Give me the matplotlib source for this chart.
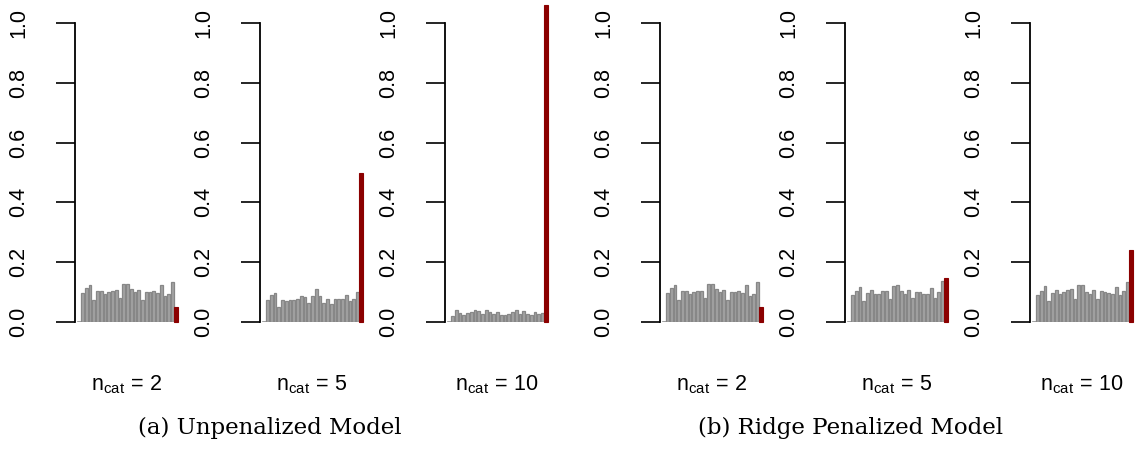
import matplotlib
matplotlib.use("Agg")
import matplotlib.pyplot as plt
import numpy as np

plt.rcParams["font.family"] = ["Liberation Sans", "DejaVu Sans"]
plt.rcParams["mathtext.fontset"] = "custom"
plt.rcParams["mathtext.rm"] = "Liberation Sans"
plt.rcParams["mathtext.it"] = "Liberation Sans"

# grey bars: 25 noise variables, last (red) bar: the categorical variable
unpen_2 = [0.098, 0.114, 0.125, 0.075, 0.105, 0.105, 0.093, 0.099, 0.105, 0.106,
           0.081, 0.127, 0.127, 0.109, 0.100, 0.108, 0.075, 0.099, 0.099, 0.103,
           0.098, 0.123, 0.086, 0.095, 0.134]
unpen_5 = [0.074, 0.089, 0.096, 0.049, 0.074, 0.071, 0.072, 0.074, 0.076, 0.088,
           0.085, 0.062, 0.087, 0.111, 0.087, 0.065, 0.078, 0.060, 0.078, 0.078,
           0.076, 0.089, 0.071, 0.078, 0.099]
unpen_10 = [0.019, 0.039, 0.030, 0.023, 0.030, 0.032, 0.041, 0.037, 0.026, 0.039,
            0.035, 0.028, 0.035, 0.025, 0.025, 0.028, 0.035, 0.039, 0.028, 0.037,
            0.028, 0.023, 0.032, 0.028, 0.030]
ridge_2 = [0.098, 0.114, 0.125, 0.075, 0.105, 0.105, 0.095, 0.100, 0.105, 0.105,
           0.081, 0.127, 0.127, 0.109, 0.100, 0.108, 0.075, 0.099, 0.099, 0.103,
           0.098, 0.125, 0.086, 0.095, 0.134]
ridge_5 = [0.089, 0.103, 0.117, 0.070, 0.097, 0.107, 0.093, 0.093, 0.105, 0.105,
           0.078, 0.122, 0.124, 0.103, 0.095, 0.106, 0.079, 0.100, 0.100, 0.095,
           0.093, 0.113, 0.081, 0.099, 0.138]
ridge_10 = [0.091, 0.104, 0.120, 0.071, 0.098, 0.108, 0.093, 0.100, 0.107, 0.111,
            0.078, 0.123, 0.125, 0.101, 0.094, 0.108, 0.078, 0.104, 0.099, 0.098,
            0.093, 0.117, 0.089, 0.103, 0.133]
cat_values = [0.049, 0.498, 1.060, 0.049, 0.147, 0.240]
noise_values = [unpen_2, unpen_5, unpen_10, ridge_2, ridge_5, ridge_10]
ncat_labels = ["2", "5", "10", "2", "5", "10"]
captions = ["(a) Unpenalized Model", "(b) Ridge Penalized Model"]

W, H = 1138, 455
fig = plt.figure(figsize=(W / 100, H / 100), dpi=100)

spine_x = [75, 260, 445, 660, 845, 1030]
y0, y1 = 322, 23

for i, (noise, cat) in enumerate(zip(noise_values, cat_values)):
    ax = fig.add_axes([spine_x[i] / W, (H - y0) / H, 105 / W, (y0 - y1) / H])
    pos = np.arange(len(noise))
    ax.bar(pos, noise, width=0.72, color="#a3a3a3", edgecolor="#878787", linewidth=0.9)
    ax.bar([len(noise)], [cat], width=0.95, color="#8b0000", edgecolor="#8b0000",
           linewidth=0.8, clip_on=False)
    ax.plot([-1.2, len(noise) - 0.4], [0, 0], color="#909090", lw=1.2, zorder=0)
    ax.set_xlim(-2, 26)
    ax.set_ylim(0, 1)
    for s in ["top", "right", "bottom"]:
        ax.spines[s].set_visible(False)
    ax.spines["left"].set_bounds(0, 1)
    ax.spines["left"].set_linewidth(1.3)
    ax.set_xticks([])
    ax.set_yticks([0, 0.2, 0.4, 0.6, 0.8, 1.0])
    ax.set_yticklabels(["0.0", "0.2", "0.4", "0.6", "0.8", "1.0"], rotation=90,
                       va="center", fontsize=15.5)
    ax.tick_params(axis="y", length=14, width=1.2, pad=19)
    ax.patch.set_visible(False)

    fig.text((spine_x[i] + 52) / W, 1 - 385 / H,
             r"$\mathregular{n_{cat}\,=\,%s}$" % ncat_labels[i],
             ha="center", va="center", fontsize=15.5)

fig.text(270 / W, 1 - 428 / H, captions[0], ha="center", va="center",
         family=["DejaVu Serif"], fontsize=16.5)
fig.text(850 / W, 1 - 428 / H, captions[1], ha="center", va="center",
         family=["DejaVu Serif"], fontsize=16.5)

fig.savefig("out.png", dpi=100)
